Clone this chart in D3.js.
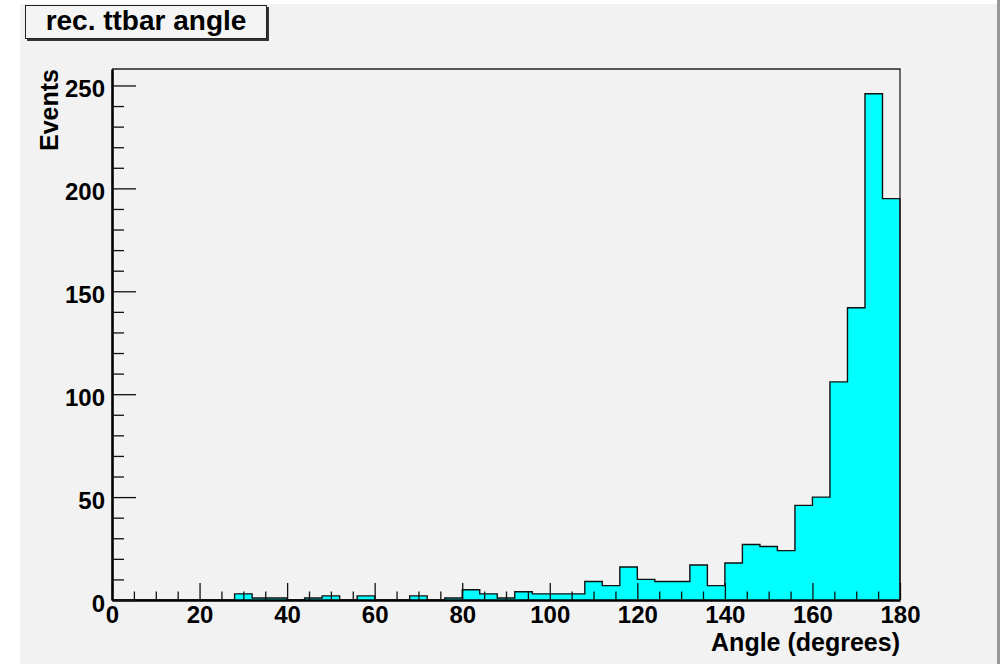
<!DOCTYPE html>
<html>
<head>
<meta charset="utf-8">
<script src="https://cdn.jsdelivr.net/npm/d3@7"></script>
<style>
  body { margin: 0; background: #fff; }
  svg { display: block; font-family: "Liberation Sans", Arial, Helvetica, sans-serif; font-weight: bold; }
</style>
</head>
<body>
<div id="hist"></div>
<script>
// histogram "rec. ttbar angle", 45 bins of 4 degrees
const binEdges = [0, 4, 8, 12, 16, 20, 24, 28, 32, 36, 40, 44, 48, 52, 56, 60, 64, 68, 72, 76, 80,
  84, 88, 92, 96, 100, 104, 108, 112, 116, 120, 124, 128, 132, 136, 140, 144, 148, 152, 156, 160,
  164, 168, 172, 176, 180];
const counts = [0, 0, 0, 0, 0, 0, 0, 3, 1, 1, 0, 1, 2, 0, 2, 0, 0, 2, 0, 1, 5,
  3, 1, 4, 3, 3, 3, 9, 7, 16, 10, 9, 9, 17, 7, 18, 27, 26, 24, 46, 50,
  106, 142, 246, 195];

const xTicks = [0, 20, 40, 60, 80, 100, 120, 140, 160, 180];
const xMinorTicks = [5, 10, 15, 25, 30, 35, 45, 50, 55, 65, 70, 75, 85, 90, 95, 105, 110, 115,
  125, 130, 135, 145, 150, 155, 165, 170, 175];
const yTicks = [0, 50, 100, 150, 200, 250];
const yMinorTicks = [10, 20, 30, 40, 60, 70, 80, 90, 110, 120, 130, 140, 160, 170, 180, 190,
  210, 220, 230, 240];

const title = "rec. ttbar angle";
const xTitle = "Angle (degrees)";
const yTitle = "Events";

const width = 1000, height = 664;
const margin = {top: 69, right: 100, bottom: 64, left: 112};

const svg = d3.select("#hist").append("svg")
  .attr("width", width)
  .attr("height", height);

// canvas
svg.append("rect")
  .attr("x", 20).attr("y", 4)
  .attr("width", 977).attr("height", height - 4)
  .attr("fill", "#f2f2f2");
svg.append("line")
  .attr("x1", 998.5).attr("x2", 998.5)
  .attr("y1", 0).attr("y2", height)
  .attr("stroke", "#999").attr("stroke-width", 3);

const x = d3.scaleLinear()
  .domain([0, 180])
  .range([margin.left, width - margin.right]);

const y = d3.scaleLinear()
  .domain([0, 258])
  .range([height - margin.bottom, margin.top]);

// histogram as one step polygon
const pts = counts.map((c, i) => [binEdges[i], c]);
pts.push([binEdges[binEdges.length - 1], counts[counts.length - 1]]);

const area = d3.area()
  .x(d => x(d[0]))
  .y0(y(0))
  .y1(d => y(d[1]))
  .curve(d3.curveStepAfter);

svg.append("path")
  .datum(pts)
  .attr("d", area)
  .attr("fill", "#00ffff");

const outline = d3.line()
  .x(d => x(d[0]))
  .y(d => y(d[1]))
  .curve(d3.curveStepAfter);

svg.append("path")
  .datum([[0, 0]].concat(pts, [[180, 0]]))
  .attr("d", outline)
  .attr("fill", "none")
  .attr("stroke", "#111")
  .attr("stroke-width", 1.4);

// frame top / right
svg.append("path")
  .attr("d", `M${x(0)},${y(258)}H${x(180)}V${y(0)}`)
  .attr("fill", "none")
  .attr("stroke", "#222")
  .attr("stroke-width", 1.3);

// x axis
const xAxis = svg.append("g")
  .attr("transform", `translate(0,${y(0)})`)
  .call(d3.axisBottom(x).tickValues(xTicks).tickSize(-17).tickSizeOuter(0).tickPadding(6));
svg.append("g")
  .attr("transform", `translate(0,${y(0)})`)
  .call(d3.axisBottom(x).tickValues(xMinorTicks).tickSize(-8.5).tickSizeOuter(0).tickFormat(""))
  .select(".domain").remove();

// y axis
const yAxis = svg.append("g")
  .attr("transform", `translate(${x(0)},0)`)
  .call(d3.axisLeft(y).tickValues(yTicks).tickSize(-24).tickSizeOuter(0).tickPadding(7));
svg.append("g")
  .attr("transform", `translate(${x(0)},0)`)
  .call(d3.axisLeft(y).tickValues(yMinorTicks).tickSize(-12).tickSizeOuter(0).tickFormat(""))
  .select(".domain").remove();

svg.selectAll(".tick line").attr("stroke", "#111").attr("stroke-width", 1.3);
xAxis.select(".domain").attr("stroke", "#000").attr("stroke-width", 2.6);
yAxis.select(".domain").attr("stroke", "#000").attr("stroke-width", 2.6);

xAxis.selectAll("text")
  .attr("font-size", 24)
  .attr("font-family", "Liberation Sans, Arial, sans-serif")
  .attr("fill", "#000");
yAxis.selectAll("text")
  .attr("font-size", 24)
  .attr("font-family", "Liberation Sans, Arial, sans-serif")
  .attr("dy", "0.46em")
  .attr("fill", "#000");

// axis titles
svg.append("text")
  .attr("x", x(180))
  .attr("y", 651)
  .attr("text-anchor", "end")
  .attr("font-size", 25)
  .text(xTitle);

svg.append("text")
  .attr("transform", `translate(58,${margin.top}) rotate(-90)`)
  .attr("text-anchor", "end")
  .attr("font-size", 25)
  .text(yTitle);

// title box with shadow
svg.append("rect")
  .attr("x", 27).attr("y", 7)
  .attr("width", 242).attr("height", 34)
  .attr("fill", "#333");
svg.append("rect")
  .attr("x", 25.5).attr("y", 5.5)
  .attr("width", 241).attr("height", 33)
  .attr("fill", "#f4f4f4")
  .attr("stroke", "#222")
  .attr("stroke-width", 1);
svg.append("text")
  .attr("x", 146)
  .attr("y", 30)
  .attr("text-anchor", "middle")
  .attr("font-size", 28)
  .text(title);
</script>
</body>
</html>
